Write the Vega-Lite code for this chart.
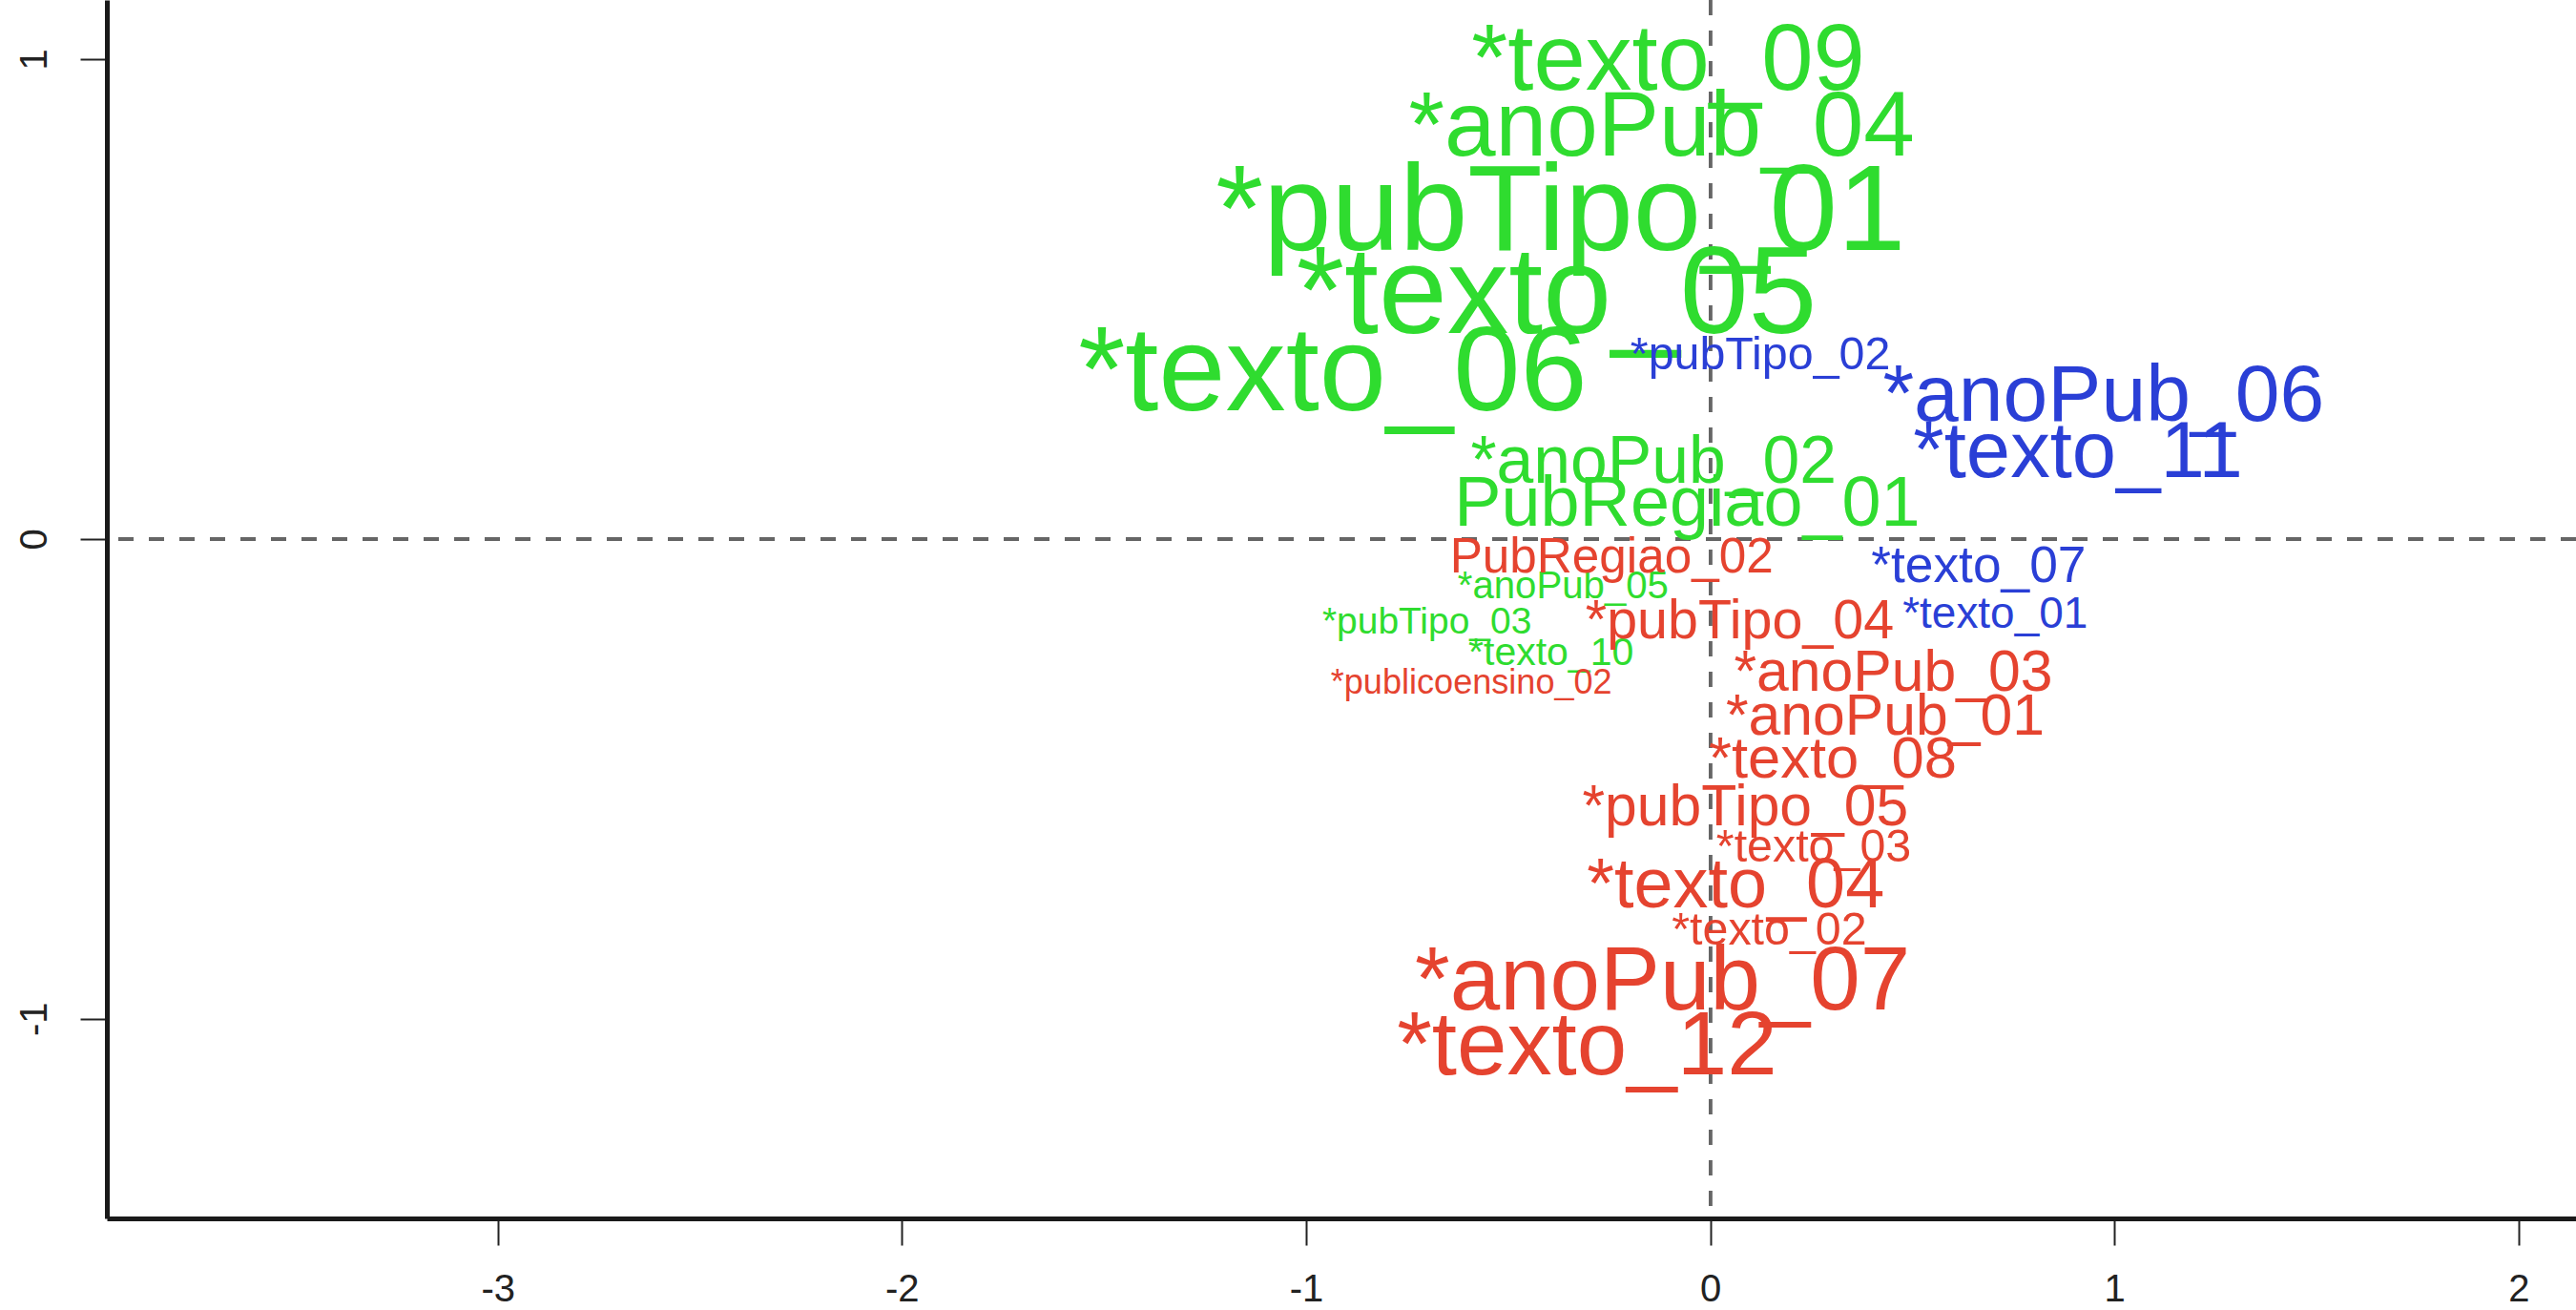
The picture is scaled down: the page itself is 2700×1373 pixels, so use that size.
{
  "$schema": "https://vega.github.io/schema/vega-lite/v6.json",
  "width": 2588,
  "height": 1277,
  "autosize": {"type": "none"},
  "padding": {"left": 112, "top": 0, "right": 0, "bottom": 96},
  "background": "white",
  "config": {
    "view": {"stroke": null},
    "font": "Liberation Sans",
    "axis": {"grid": false, "title": null}
  },
  "data": {
    "values": [
      {"label": "*texto_09", "x": -0.104, "y": 0.993, "peso": 2.38, "grupo": "g1"},
      {"label": "*anoPub_04", "x": -0.120, "y": 0.856, "peso": 2.35, "grupo": "g1"},
      {"label": "*pubTipo_01", "x": -0.370, "y": 0.678, "peso": 3.13, "grupo": "g1"},
      {"label": "*texto_05", "x": -0.380, "y": 0.507, "peso": 3.15, "grupo": "g1"},
      {"label": "*texto_06", "x": -0.934, "y": 0.343, "peso": 3.08, "grupo": "g1"},
      {"label": "*anoPub_02", "x": -0.140, "y": 0.158, "peso": 1.70, "grupo": "g1"},
      {"label": "PubRegiao_01", "x": -0.057, "y": 0.072, "peso": 1.80, "grupo": "g1"},
      {"label": "*anoPub_05", "x": -0.364, "y": -0.099, "peso": 0.98, "grupo": "g1"},
      {"label": "*pubTipo_03", "x": -0.701, "y": -0.174, "peso": 0.95, "grupo": "g1"},
      {"label": "*texto_10", "x": -0.394, "y": -0.239, "peso": 1.00, "grupo": "g1"},
      {"label": "PubRegiao_02", "x": -0.244, "y": -0.041, "peso": 1.25, "grupo": "g2"},
      {"label": "*publicoensino_02", "x": -0.591, "y": -0.301, "peso": 0.88, "grupo": "g2"},
      {"label": "*pubTipo_04", "x": 0.073, "y": -0.174, "peso": 1.40, "grupo": "g2"},
      {"label": "*anoPub_03", "x": 0.453, "y": -0.280, "peso": 1.48, "grupo": "g2"},
      {"label": "*anoPub_01", "x": 0.433, "y": -0.373, "peso": 1.48, "grupo": "g2"},
      {"label": "*texto_08", "x": 0.303, "y": -0.462, "peso": 1.50, "grupo": "g2"},
      {"label": "*pubTipo_05", "x": 0.087, "y": -0.561, "peso": 1.48, "grupo": "g2"},
      {"label": "*texto_03", "x": 0.256, "y": -0.643, "peso": 1.18, "grupo": "g2"},
      {"label": "*texto_04", "x": 0.063, "y": -0.725, "peso": 1.80, "grupo": "g2"},
      {"label": "*texto_02", "x": 0.146, "y": -0.815, "peso": 1.18, "grupo": "g2"},
      {"label": "*anoPub_07", "x": -0.118, "y": -0.924, "peso": 2.30, "grupo": "g2"},
      {"label": "*texto_12", "x": -0.305, "y": -1.061, "peso": 2.30, "grupo": "g2"},
      {"label": "*pubTipo_02", "x": 0.124, "y": 0.384, "peso": 1.18, "grupo": "g3"},
      {"label": "*anoPub_06", "x": 0.973, "y": 0.295, "peso": 2.05, "grupo": "g3"},
      {"label": "*texto_11", "x": 0.910, "y": 0.178, "peso": 2.03, "grupo": "g3"},
      {"label": "*texto_07", "x": 0.664, "y": -0.058, "peso": 1.30, "grupo": "g3"},
      {"label": "*texto_01", "x": 0.705, "y": -0.157, "peso": 1.12, "grupo": "g3"}
    ]
  },
  "layer": [
    {
      "mark": {"type": "rule", "strokeDash": [16, 16], "strokeWidth": 3, "color": "#666666"},
      "encoding": {"y": {"datum": 0, "type": "quantitative"}}
    },
    {
      "mark": {"type": "rule", "strokeDash": [16, 16], "strokeWidth": 3, "color": "#666666"},
      "encoding": {"x": {"datum": 0, "type": "quantitative"}}
    },
    {
      "mark": {"type": "text", "align": "center", "baseline": "middle", "font": "Liberation Sans"},
      "encoding": {
        "x": {
          "field": "x", "type": "quantitative",
          "scale": {"domain": [-3.967, 2.142], "nice": false, "zero": false},
          "axis": {
            "values": [-3, -2, -1, 0, 1, 2],
            "labelExpr": "'' + datum.value",
            "domainWidth": 5, "domainColor": "#1a1a1a",
            "tickSize": 28, "tickWidth": 2, "tickColor": "#222222",
            "labelFontSize": 40, "labelColor": "#222222", "labelPadding": 26,
            "labelFont": "Liberation Sans"
          }
        },
        "y": {
          "field": "y", "type": "quantitative",
          "scale": {"domain": [-1.416, 1.123], "nice": false, "zero": false},
          "axis": {
            "values": [-1, 0, 1],
            "labelExpr": "'' + datum.value",
            "domainWidth": 5, "domainColor": "#1a1a1a",
            "tickSize": 28, "tickWidth": 2, "tickColor": "#222222",
            "labelFontSize": 40, "labelColor": "#222222", "labelPadding": 28,
            "labelAngle": -90, "labelAlign": "center", "labelBaseline": "bottom",
            "labelFont": "Liberation Sans"
          }
        },
        "text": {"field": "label"},
        "size": {
          "field": "peso", "type": "quantitative",
          "scale": {"type": "linear", "domain": [0, 4], "range": [0, 164], "zero": true},
          "legend": null
        },
        "color": {
          "field": "grupo", "type": "nominal",
          "scale": {"domain": ["g1", "g2", "g3"], "range": ["#2fdc2f", "#e5432f", "#2a3fd6"]},
          "legend": null
        }
      }
    }
  ]
}
